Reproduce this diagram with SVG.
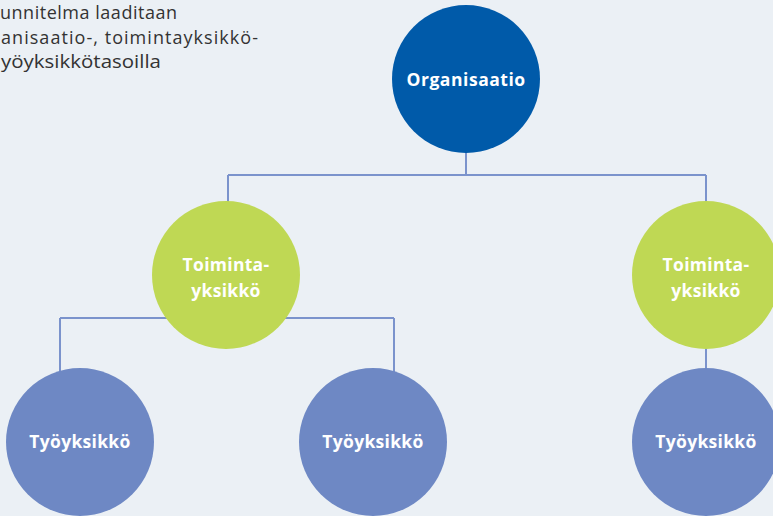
<svg xmlns="http://www.w3.org/2000/svg" width="773" height="516" viewBox="0 0 773 516">
<style>
.lbl{font-family:"Open Sans","Liberation Sans",sans-serif;font-weight:700;font-size:17.5px;letter-spacing:0.3px;fill:#ffffff;text-anchor:middle}
.cap{font-family:"Open Sans","Liberation Sans",sans-serif;font-size:18px;fill:#333333}
.ln{stroke:#7b93cc;stroke-width:2;fill:none}
.org{fill:#005aa9}
.unit{fill:#bfd854}
.work{fill:#6e88c4}
</style>
<rect width="773" height="516" fill="#ebf0f5"/>
<g id="caption">
<text class="cap" x="0" y="18.5" textLength="177" lengthAdjust="spacing">unnitelma laaditaan</text>
<text class="cap" x="1" y="43.5" textLength="257" lengthAdjust="spacing">anisaatio-, toimintayksikkö-</text>
<text class="cap" x="1" y="67.5" textLength="160" lengthAdjust="spacingAndGlyphs">yöyksikkötasoilla</text>
</g>
<g id="connectors">
<path class="ln" d="M466 150 V175 M228 175 H706 M228 175 V205 M706 175 V205"/>
<path class="ln" d="M60 318 H394 M60 318 V372 M394 318 V372"/>
<path class="ln" d="M706 345 V372"/>
</g>
<g id="organisaatio">
<circle class="org" cx="466" cy="79" r="74"/>
<text class="lbl" x="466" y="85.5" textLength="119" lengthAdjust="spacing">Organisaatio</text>
</g>
<g id="toimintayksikko1">
<circle class="unit" cx="226" cy="275" r="74"/>
<text class="lbl" x="226" y="271">Toiminta-</text>
<text class="lbl" x="226" y="297">yksikkö</text>
</g>
<g id="toimintayksikko2">
<circle class="unit" cx="706" cy="275" r="74"/>
<text class="lbl" x="706" y="271">Toiminta-</text>
<text class="lbl" x="706" y="297">yksikkö</text>
</g>
<g id="tyoyksikko1">
<circle class="work" cx="80" cy="442" r="74"/>
<text class="lbl" x="80" y="448">Työyksikkö</text>
</g>
<g id="tyoyksikko2">
<circle class="work" cx="373" cy="442" r="74"/>
<text class="lbl" x="373" y="448">Työyksikkö</text>
</g>
<g id="tyoyksikko3">
<circle class="work" cx="706" cy="442" r="74"/>
<text class="lbl" x="706" y="448">Työyksikkö</text>
</g>
</svg>
